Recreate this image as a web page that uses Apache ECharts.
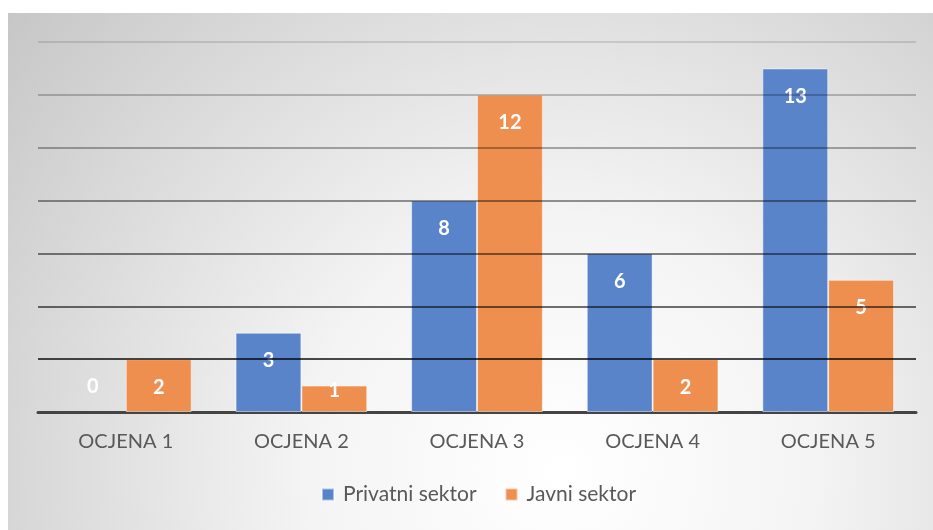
<!DOCTYPE html>
<html>
<head>
<meta charset="utf-8">
<script src="https://cdn.jsdelivr.net/npm/echarts@6/dist/echarts.min.js"></script>
<style>
  html, body { margin: 0; padding: 0; background: #fff; }
  #chart { width: 933px; height: 530px; }
</style>
</head>
<body>
<div id="chart"></div>
<script>
// podaci
const categories = ["OCJENA 1", "OCJENA 2", "OCJENA 3", "OCJENA 4", "OCJENA 5"];
const privatniSektor = [0, 3, 8, 6, 13];
const javniSektor = [2, 1, 12, 2, 5];
const seriesNames = ["Privatni sektor", "Javni sektor"];

const fontFam = "Lato, 'Open Sans', sans-serif";

// vrijednosti: posebni položaj oznake za vrlo niske stupce
function toData(values) {
    return values.map(v => {
        if (v === 0) {
            return { value: v, itemStyle: { borderWidth: 0 }, label: { position: "top", distance: 15 } };
        }
        if (v === 1) {
            return { value: v, label: { position: "inside", offset: [0, -8] } };
        }
        return v;
    });
}

const labelStyle = {
    show: true,
    position: "insideTop",
    distance: 18,
    color: "#fff",
    fontWeight: "bold",
    fontSize: 20,
    fontFamily: fontFam
};

const option = {
    backgroundColor: "#fff",
    animation: false,
    graphic: [{
        type: "rect",
        z: -10,
        silent: true,
        shape: { x: 8, y: 13, width: 925, height: 517 },
        style: {
            fill: new echarts.graphic.RadialGradient(560, 470, 720, [
                { offset: 0, color: "#ffffff" },
                { offset: 0.35, color: "#f4f4f4" },
                { offset: 1, color: "#c6c6c6" }
            ], true)
        }
    }],
    legend: {
        bottom: 20,
        left: 316,
        itemWidth: 12,
        itemHeight: 12,
        itemGap: 28,
        icon: "rect",
        textStyle: { color: "#595959", fontSize: 21, fontFamily: fontFam, padding: [0, 0, 0, 4] },
        data: seriesNames
    },
    grid: { left: 38, right: 17, top: 42, bottom: 118 },
    xAxis: {
        type: "category",
        data: categories,
        axisTick: { show: false },
        axisLine: { lineStyle: { color: "#444", width: 3 } },
        axisLabel: { color: "#595959", fontSize: 20, margin: 20, fontFamily: fontFam }
    },
    yAxis: {
        type: "value",
        min: 0,
        max: 14,
        interval: 2,
        z: 3,
        axisLabel: { show: false },
        axisLine: { show: false },
        axisTick: { show: false },
        splitLine: {
            lineStyle: {
                width: 1.5,
                // od dna prema vrhu
                color: [
                    "rgba(0,0,0,0)",
                    "rgba(0,0,0,0.95)",
                    "rgba(0,0,0,0.75)",
                    "rgba(0,0,0,0.65)",
                    "rgba(0,0,0,0.55)",
                    "rgba(0,0,0,0.42)",
                    "rgba(0,0,0,0.3)",
                    "rgba(0,0,0,0.16)"
                ]
            }
        }
    },
    series: [
        {
            name: seriesNames[0],
            type: "bar",
            data: toData(privatniSektor),
            barGap: "0%",
            barCategoryGap: "25%",
            itemStyle: { color: "#5a84ca", borderColor: "rgba(255,255,255,0.5)", borderWidth: 1 },
            label: labelStyle
        },
        {
            name: seriesNames[1],
            type: "bar",
            data: toData(javniSektor),
            barGap: "0%",
            barCategoryGap: "25%",
            itemStyle: { color: "#ee8e4f", borderColor: "rgba(255,255,255,0.5)", borderWidth: 1 },
            label: labelStyle
        }
    ]
};

const chart = echarts.init(document.getElementById("chart"));
chart.setOption(option);
</script>
</body>
</html>
